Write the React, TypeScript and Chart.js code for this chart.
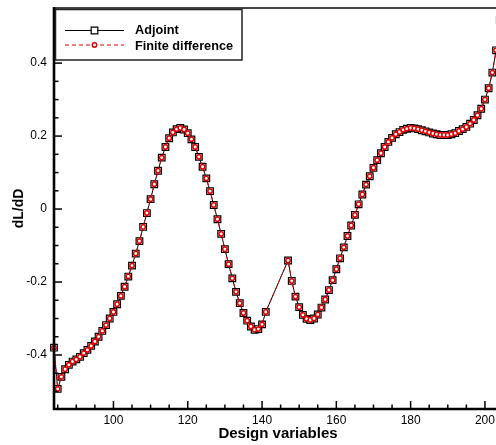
import React, { useEffect, useRef } from 'react';
import { Chart, registerables } from 'chart.js';

Chart.register(...registerables);

const designVariables = [
  84, 85, 86, 87, 88, 89, 90, 91, 92, 93, 94, 95, 96, 97, 98, 99,
  100, 101, 102, 103, 104, 105, 106, 107, 108, 109, 110, 111, 112, 113, 114, 115,
  116, 117, 118, 119, 120, 121, 122, 123, 124, 125, 126, 127, 128, 129, 130, 131,
  132, 133, 134, 135, 136, 137, 138, 139, 140, 141,
  147, 148, 149, 150, 151, 152, 153, 154, 155, 156, 157, 158, 159, 160, 161, 162,
  163, 164, 165, 166, 167, 168, 169, 170, 171, 172, 173, 174, 175, 176, 177, 178,
  179, 180, 181, 182, 183, 184, 185, 186, 187, 188, 189, 190, 191, 192, 193, 194,
  195, 196, 197, 198, 199, 200, 201, 202, 203, 204,
];

const adjointValues = [
  -0.380, -0.493, -0.460, -0.439, -0.427, -0.418, -0.412, -0.405, -0.395, -0.386, -0.375, -0.363, -0.350, -0.334, -0.318, -0.300,
  -0.282, -0.261, -0.238, -0.213, -0.185, -0.155, -0.122, -0.088, -0.049, -0.011, 0.027, 0.068, 0.105, 0.141, 0.170, 0.194,
  0.210, 0.219, 0.222, 0.218, 0.208, 0.191, 0.170, 0.143, 0.116, 0.084, 0.049, 0.011, -0.028, -0.068, -0.110, -0.151,
  -0.190, -0.227, -0.258, -0.285, -0.306, -0.322, -0.331, -0.329, -0.316, -0.282,
  -0.141, -0.197, -0.240, -0.269, -0.290, -0.301, -0.304, -0.300, -0.289, -0.270, -0.248, -0.222, -0.195, -0.165, -0.135, -0.105,
  -0.074, -0.045, -0.016, 0.013, 0.040, 0.067, 0.090, 0.113, 0.134, 0.153, 0.170, 0.184, 0.195, 0.205, 0.211, 0.217,
  0.220, 0.222, 0.221, 0.219, 0.216, 0.213, 0.210, 0.207, 0.205, 0.203, 0.203, 0.203, 0.205, 0.208, 0.214, 0.219,
  0.225, 0.234, 0.244, 0.257, 0.275, 0.300, 0.331, 0.374, 0.435, 0.518,
];

const finiteDifferenceValues = [
  -0.380, -0.493, -0.460, -0.439, -0.427, -0.418, -0.412, -0.405, -0.395, -0.386, -0.375, -0.363, -0.350, -0.334, -0.318, -0.300,
  -0.282, -0.261, -0.238, -0.213, -0.185, -0.155, -0.122, -0.088, -0.049, -0.011, 0.027, 0.068, 0.105, 0.141, 0.170, 0.194,
  0.210, 0.219, 0.222, 0.218, 0.208, 0.191, 0.170, 0.143, 0.116, 0.084, 0.049, 0.011, -0.028, -0.068, -0.110, -0.151,
  -0.190, -0.227, -0.258, -0.285, -0.306, -0.322, -0.331, -0.329, -0.316, -0.282,
  -0.141, -0.197, -0.240, -0.269, -0.290, -0.301, -0.304, -0.300, -0.289, -0.270, -0.248, -0.222, -0.195, -0.165, -0.135, -0.105,
  -0.074, -0.045, -0.016, 0.013, 0.040, 0.067, 0.090, 0.113, 0.134, 0.153, 0.170, 0.184, 0.195, 0.205, 0.211, 0.217,
  0.220, 0.222, 0.221, 0.219, 0.216, 0.213, 0.210, 0.207, 0.205, 0.203, 0.203, 0.203, 0.205, 0.208, 0.214, 0.219,
  0.225, 0.234, 0.244, 0.257, 0.275, 0.300, 0.331, 0.374, 0.435, 0.518,
];

const seriesLabels = ['Adjoint', 'Finite difference'];
const xTickValues = [100, 120, 140, 160, 180, 200];
const yTickValues = [-0.4, -0.2, 0, 0.2, 0.4];
const xTitle = 'Design variables';
const yTitle = 'dL/dD';

const FONT = '"Liberation Sans", Arial, Helvetica, sans-serif';

const framePlugin = {
  id: 'tecplotFrame',
  afterDatasetsDraw(chart: any) {
    const { ctx, chartArea, scales } = chart;
    const { left, right, top, bottom } = chartArea;
    const x = scales.x;
    const y = scales.y;
    ctx.save();
    ctx.strokeStyle = '#000';
    ctx.lineWidth = 1.5;
    for (let v = 85; v <= x.max; v += 5) {
      const px = x.getPixelForValue(v);
      const len = v % 20 === 0 ? 8 : 4.5;
      ctx.beginPath();
      ctx.moveTo(px, bottom);
      ctx.lineTo(px, bottom - len);
      ctx.stroke();
    }
    for (let k = -10; k <= 11; k++) {
      const v = k * 0.05;
      if (v < y.min || v > y.max) continue;
      const py = y.getPixelForValue(v);
      const len = k % 4 === 0 ? 8 : 4.5;
      ctx.beginPath();
      ctx.moveTo(left, py);
      ctx.lineTo(left + len, py);
      ctx.stroke();
    }
    ctx.strokeStyle = '#444';
    ctx.lineWidth = 2;
    ctx.beginPath();
    ctx.moveTo(left, top);
    ctx.lineTo(right, top);
    ctx.stroke();
    ctx.strokeStyle = '#000';
    ctx.lineWidth = 2.6;
    ctx.beginPath();
    ctx.moveTo(left, top - 1);
    ctx.lineTo(left, bottom);
    ctx.lineTo(right, bottom);
    ctx.stroke();
    ctx.restore();
  },
  afterDraw(chart: any) {
    const { ctx } = chart;
    const ds = chart.data.datasets;
    ctx.save();
    ctx.fillStyle = '#fff';
    ctx.fillRect(55.5, 9.5, 186.5, 50.5);
    ctx.strokeStyle = '#222';
    ctx.lineWidth = 1.5;
    ctx.strokeRect(55.5, 9.5, 186.5, 50.5);
    const rows = [30.5, 45];
    const baselines = [34, 49.5];
    ds.forEach((d: any, i: number) => {
      const yy = rows[i];
      ctx.strokeStyle = d.borderColor;
      ctx.lineWidth = d.borderWidth;
      ctx.setLineDash(d.borderDash || []);
      ctx.beginPath();
      ctx.moveTo(65, yy);
      ctx.lineTo(124, yy);
      ctx.stroke();
      ctx.setLineDash([]);
      ctx.lineWidth = d.pointBorderWidth;
      ctx.strokeStyle = d.pointBorderColor;
      ctx.fillStyle = d.pointBackgroundColor;
      ctx.beginPath();
      if (d.pointStyle === 'rect') {
        const s = d.pointRadius * Math.SQRT1_2;
        ctx.rect(94.5 - s, yy - s, 2 * s, 2 * s);
      } else {
        ctx.arc(94.5, yy, d.pointRadius, 0, Math.PI * 2);
      }
      ctx.fill();
      ctx.stroke();
      ctx.fillStyle = '#000';
      ctx.font = `bold 12.7px ${FONT}`;
      ctx.textBaseline = 'alphabetic';
      ctx.textAlign = 'left';
      ctx.fillText(d.label, 135, baselines[i]);
    });
    ctx.restore();
  },
};

const zeroPadding = (scale: any) => {
  scale.paddingTop = 0;
  scale.paddingBottom = 0;
  scale.paddingLeft = 0;
  scale.paddingRight = 0;
};

export default function App() {
  const canvasRef = useRef<HTMLCanvasElement | null>(null);

  useEffect(() => {
    const canvas = canvasRef.current;
    if (!canvas) return;
    const adjointPoints = designVariables.map((d, i) => ({ x: d, y: adjointValues[i] }));
    const fdPoints = designVariables.map((d, i) => ({ x: d, y: finiteDifferenceValues[i] }));
    const chart = new Chart(canvas, {
      type: 'line',
      data: {
        datasets: [
          {
            label: seriesLabels[0],
            data: adjointPoints,
            borderColor: '#000',
            borderWidth: 1,
            pointStyle: 'rect',
            pointRadius: 4.7,
            pointBorderColor: '#000',
            pointBackgroundColor: '#fff',
            pointBorderWidth: 1.2,
            tension: 0,
            clip: false,
            order: 2,
          } as any,
          {
            label: seriesLabels[1],
            data: fdPoints,
            borderColor: '#e00000',
            borderWidth: 1,
            borderDash: [4, 3],
            pointStyle: 'circle',
            pointRadius: 2.2,
            pointBorderColor: '#e00000',
            pointBackgroundColor: '#fff',
            pointBorderWidth: 1.5,
            tension: 0,
            clip: false,
            order: 1,
          } as any,
        ],
      },
      options: {
        animation: false,
        responsive: false,
        devicePixelRatio: 1,
        layout: { autoPadding: false, padding: { top: 8, right: 0, bottom: 0, left: 0 } },
        plugins: {
          legend: { display: false },
          tooltip: { enabled: false },
        },
        scales: {
          x: {
            type: 'linear',
            min: 84,
            max: 84 + (502 - 54) / 3.715,
            grid: { display: false, drawTicks: false },
            border: { display: false },
            afterBuildTicks: (scale: any) => {
              scale.ticks = xTickValues.map((v) => ({ value: v }));
            },
            afterFit: (scale: any) => {
              scale.height = 36;
              zeroPadding(scale);
            },
            ticks: {
              padding: 4,
              color: '#000',
              maxRotation: 0,
              autoSkip: false,
              font: { family: FONT, size: 12 },
              callback: (v: any) => String(v),
            },
            title: {
              display: true,
              text: xTitle,
              color: '#000',
              padding: { top: 0, bottom: 2 },
              font: { family: FONT, size: 15, weight: 'bold' },
            },
          },
          y: {
            type: 'linear',
            min: -0.548,
            max: 0.551,
            grid: { display: false, drawTicks: false },
            border: { display: false },
            afterBuildTicks: (scale: any) => {
              scale.ticks = yTickValues.map((v) => ({ value: v }));
            },
            afterFit: (scale: any) => {
              scale.width = 54;
              zeroPadding(scale);
            },
            ticks: {
              padding: 7,
              color: '#000',
              autoSkip: false,
              font: { family: FONT, size: 12 },
              callback: (v: any) => (Math.abs(v) < 1e-9 ? '0' : Number(v).toFixed(1)),
            },
            title: {
              display: true,
              text: yTitle,
              color: '#000',
              padding: { top: 11, bottom: 0 },
              font: { family: FONT, size: 14, weight: 'bold' },
            },
          },
        },
      } as any,
      plugins: [framePlugin],
    });
    return () => chart.destroy();
  }, []);

  return (
    <div
      style={{
        position: 'absolute',
        left: 0,
        top: 0,
        width: 496,
        height: 445,
        overflow: 'hidden',
        background: '#fff',
      }}
    >
      <canvas ref={canvasRef} width={502} height={445} style={{ display: 'block', width: 502, height: 445 }} />
    </div>
  );
}
